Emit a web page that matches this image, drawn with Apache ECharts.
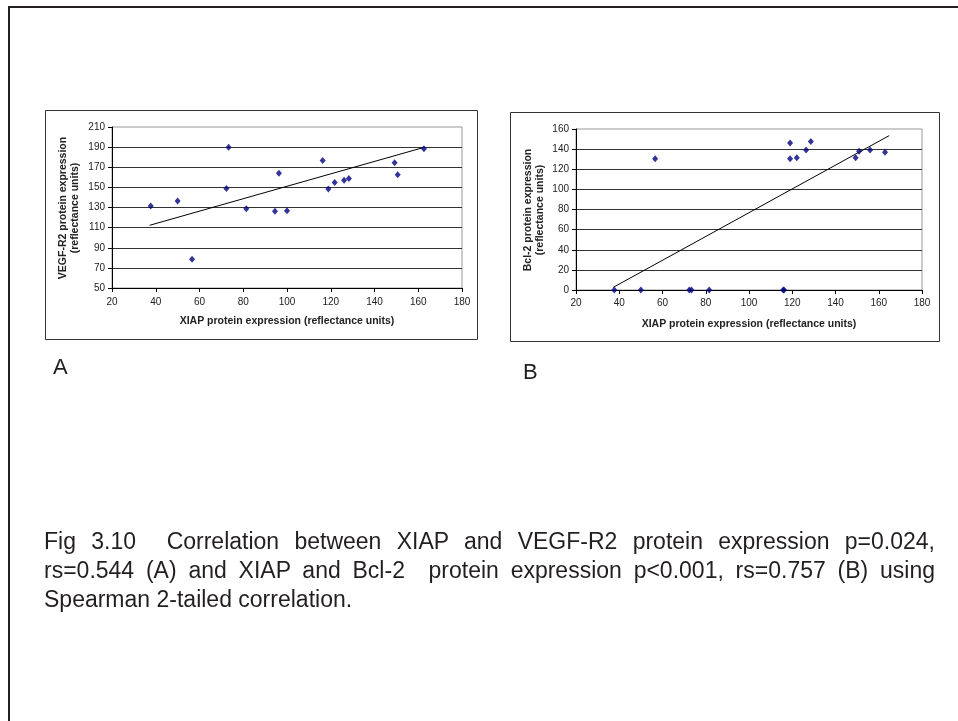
<!DOCTYPE html>
<html lang="en">
<head>
<meta charset="utf-8">
<script src="https://cdn.jsdelivr.net/npm/echarts@6/dist/echarts.min.js"></script>
<style>
    html, body {
        margin: 0;
        padding: 0;
        background: #fff;
    }
    .page {
        position: relative;
        width: 958px;
        height: 721px;
        overflow: hidden;
        font-family: "Liberation Sans", Arial, sans-serif;
        color: #231f20;
    }
    .frame {
        position: absolute;
        left: 8px;
        top: 6px;
        width: 980px;
        height: 760px;
        border-top: 2px solid #231f20;
        border-left: 2px solid #231f20;
    }
    #main {
        position: absolute;
        left: 0;
        top: 0;
        width: 958px;
        height: 721px;
    }
    .panel {
        position: absolute;
        font-size: 22px;
        line-height: 22px;
    }
    .caption {
        position: absolute;
        left: 44px;
        top: 527px;
        width: 891px;
        font-size: 23px;
        line-height: 29px;
    }
    .caption div {
        text-align: justify;
        text-align-last: justify;
        white-space: nowrap;
    }
    .caption div.last {
        text-align-last: left;
    }
</style>
</head>
<body>
<div class="page">
    <div class="frame"></div>
    <div id="main"></div>
    <div class="panel" style="left:53px; top:356px;">A</div>
    <div class="panel" style="left:523px; top:361px;">B</div>
    <div class="caption">
        <div>Fig 3.10 &nbsp;Correlation between XIAP and VEGF-R2 protein expression p=0.024,</div>
        <div>rs=0.544 (A) and XIAP and Bcl-2 &nbsp;protein expression p&lt;0.001, rs=0.757 (B) using</div>
        <div class="last">Spearman 2-tailed correlation.</div>
    </div>
</div>

<script>
    // panel A: XIAP vs VEGF-R2
    var xiapA = [37.7, 50, 56.6, 72.3, 73.3, 81.4, 94.5, 96.3, 100, 116.3, 118.9, 121.8, 126.1, 128.3, 149.2, 150.6, 162.6];
    var vegfr2 = [131.5, 136.5, 78.6, 149, 190, 128.8, 126.2, 164.1, 126.8, 176.7, 148.3, 154.9, 157.2, 158.9, 174.4, 162.5, 188.5];
    var trendAx = [37.2, 162.2];
    var trendAy = [112.3, 189.5];

    // panel B: XIAP vs Bcl-2
    var xiapB = [37.7, 50, 56.6, 72.4, 73.4, 81.6, 115.8, 116.2, 119, 119, 122.1, 126.4, 128.6, 149.3, 150.9, 156, 162.9];
    var bcl2 = [0, 0, 130.5, 0, 0, 0, 0, 0, 146.1, 130.5, 131.5, 139.1, 147.7, 131.5, 137.8, 139.1, 136.8];
    var trendBx = [37.2, 164.8];
    var trendBy = [2.6, 153.4];

    var xTicks = [20, 180, 20];     // min, max, step
    var yTicksA = [50, 210, 20];
    var yTicksB = [0, 160, 20];

    var xTitle = 'XIAP protein expression (reflectance units)';
    var yTitleA = 'VEGF-R2 protein expression\n(reflectance units)';
    var yTitleB = 'Bcl-2 protein expression\n(reflectance units)';

    var FONT = '"Liberation Sans", Arial, sans-serif';

    function pairs(xs, ys) {
        var res = [];
        for (var i = 0; i < xs.length; i++) {
            res.push([xs[i], ys[i]]);
        }
        return res;
    }

    function makeX(idx, margin) {
        return {
            type: 'value',
            gridIndex: idx,
            min: xTicks[0],
            max: xTicks[1],
            interval: xTicks[2],
            axisLine: {show: true, lineStyle: {color: '#000', width: 1}},
            axisTick: {show: true, inside: false, length: 4, lineStyle: {color: '#000'}},
            axisLabel: {fontSize: 10, color: '#222', fontFamily: FONT, margin: margin},
            splitLine: {show: false}
        };
    }

    function makeY(idx, ticks) {
        return {
            type: 'value',
            gridIndex: idx,
            min: ticks[0],
            max: ticks[1],
            interval: ticks[2],
            axisLine: {show: true, lineStyle: {color: '#000', width: 1}},
            axisTick: {show: true, inside: false, length: 4, lineStyle: {color: '#000'}},
            axisLabel: {fontSize: 10, color: '#222', fontFamily: FONT, margin: 7},
            splitLine: {show: true, showMaxLine: false, lineStyle: {color: '#333', width: 1}}
        };
    }

    function scatter(idx, xs, ys) {
        return {
            type: 'scatter',
            xAxisIndex: idx,
            yAxisIndex: idx,
            data: pairs(xs, ys),
            symbol: 'diamond',
            symbolSize: [6, 7],
            itemStyle: {color: '#000080'},
            silent: true,
            z: 3
        };
    }

    function trend(idx, xs, ys) {
        return {
            type: 'line',
            xAxisIndex: idx,
            yAxisIndex: idx,
            data: pairs(xs, ys),
            symbol: 'none',
            lineStyle: {color: '#000', width: 1},
            silent: true,
            z: 2
        };
    }

    function titleText(x, y, text, rotate) {
        return {
            type: 'text',
            x: x,
            y: y,
            rotation: rotate ? Math.PI / 2 : 0,
            style: {
                text: text,
                fontSize: 10.5,
                fontWeight: 'bold',
                fontFamily: FONT,
                fill: '#222',
                align: 'center',
                verticalAlign: 'middle',
                lineHeight: 12
            }
        };
    }

    var option = {
        animation: false,
        grid: [
            {left: 112, top: 127, width: 350, height: 161, show: true, borderColor: '#999', borderWidth: 1, backgroundColor: 'transparent'},
            {left: 576, top: 129, width: 346, height: 161, show: true, borderColor: '#999', borderWidth: 1, backgroundColor: 'transparent'}
        ],
        xAxis: [makeX(0, 9), makeX(1, 8)],
        yAxis: [makeY(0, yTicksA), makeY(1, yTicksB)],
        series: [
            trend(0, trendAx, trendAy),
            scatter(0, xiapA, vegfr2),
            trend(1, trendBx, trendBy),
            scatter(1, xiapB, bcl2)
        ],
        graphic: [
            {type: 'rect', shape: {x: 45.5, y: 110.5, width: 432, height: 229}, style: {fill: 'none', stroke: '#333', lineWidth: 1}},
            {type: 'rect', shape: {x: 510.5, y: 112.5, width: 429, height: 229}, style: {fill: 'none', stroke: '#333', lineWidth: 1}},
            titleText(287, 321, xTitle, false),
            titleText(749, 324, xTitle, false),
            titleText(69, 208, yTitleA, true),
            titleText(534, 210, yTitleB, true)
        ]
    };

    var myChart = echarts.init(document.getElementById('main'), null, {renderer: 'canvas'});
    myChart.setOption(option);
</script>
</body>
</html>
